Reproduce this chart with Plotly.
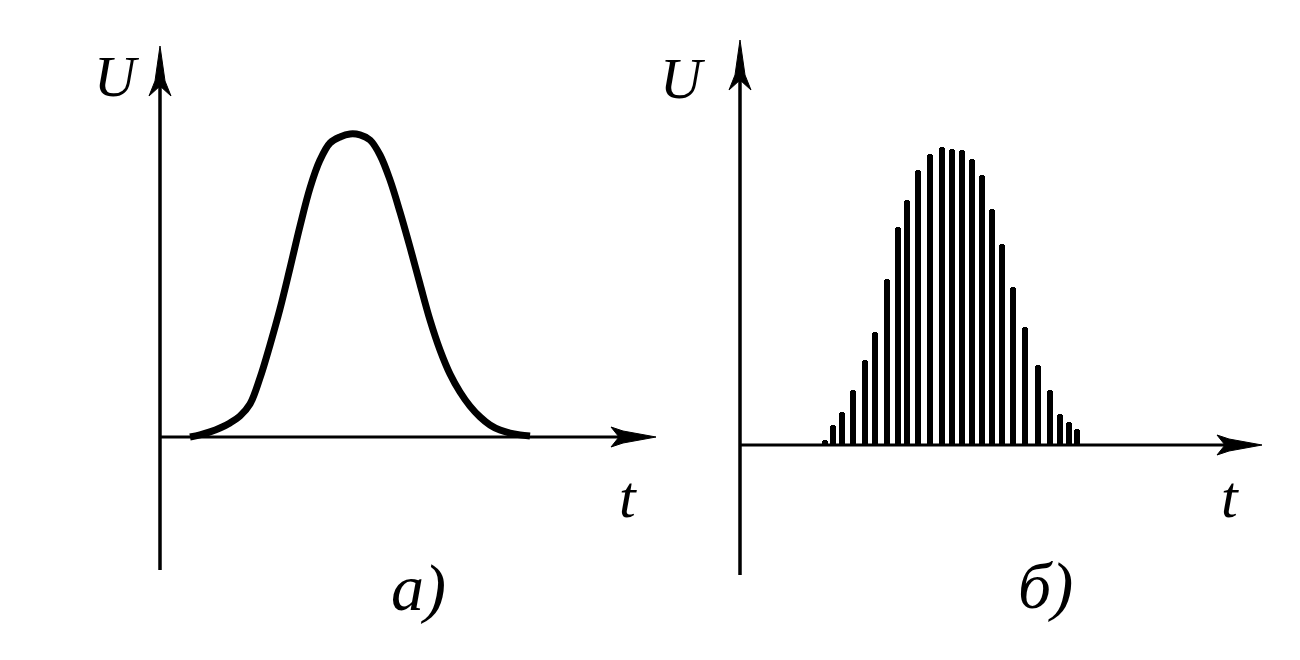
import plotly.graph_objects as go

# ---- Panel a): smooth pulse U(t) ----
t_a = [0.6, 0.8, 1.0, 1.2, 1.4, 1.6, 1.8, 2.0, 2.2, 2.4, 2.6, 2.8, 3.0, 3.2, 3.4, 3.6, 3.8, 4.0,
       4.2, 4.4, 4.6, 4.8, 5.0, 5.2, 5.4, 5.6, 5.8, 6.0, 6.2, 6.4, 6.6, 6.8, 7.0, 7.2, 7.4]
u_a = [0.0, 0.007, 0.017, 0.03, 0.047, 0.07, 0.11, 0.197, 0.307, 0.427, 0.563, 0.703, 0.83, 0.923,
       0.98, 1.0, 1.01, 1.007, 0.99, 0.94, 0.857, 0.75, 0.633, 0.51, 0.39, 0.29, 0.21, 0.15, 0.103,
       0.067, 0.04, 0.023, 0.013, 0.007, 0.003]

# ---- Panel б): rectified RF pulse, lobe positions and heights ----
t_b = [1.7, 1.86, 2.04, 2.26, 2.5, 2.7, 2.94, 3.16, 3.34, 3.56, 3.8, 4.04, 4.24,
       4.44, 4.64, 4.84, 5.04, 5.24, 5.46, 5.7, 5.96, 6.2, 6.4, 6.58, 6.74]
u_b = [0.017, 0.067, 0.11, 0.183, 0.283, 0.377, 0.553, 0.727, 0.817, 0.917, 0.97, 0.993, 0.987,
       0.983, 0.953, 0.9, 0.787, 0.67, 0.527, 0.393, 0.267, 0.183, 0.103, 0.077, 0.053]

axis_label_y = "U"
axis_label_x = "t"
panel_labels = ["а)", "б)"]

W, H = 1300, 660
OFF = 8          # page body margin in the browser
ink = "#000000"
PXT = 50.0       # px per t unit
PXU = 300.0      # px per U unit

fig = go.Figure()
fig.add_trace(go.Scatter(x=t_a, y=u_a, mode="lines", line=dict(color=ink, width=7, shape="spline", smoothing=1.0),
                         xaxis="x", yaxis="y", hoverinfo="skip", showlegend=False))
fig.add_trace(go.Bar(x=t_b, y=u_b, width=0.13, marker=dict(color=ink, line=dict(width=0), cornerradius=3),
                     xaxis="x2", yaxis="y2", hoverinfo="skip", showlegend=False))

def pxp(v):
    return (v - OFF) / W

def pyp(v):
    return 1 - (v - OFF) / H

shapes = []

def axes_shapes(xr, yr, x_end, y_bot, y_top, ytip, xtip):
    sx = 1 / PXT
    sy = 1 / PXU
    shapes.append(dict(type="line", xref=xr, yref=yr, x0=0, x1=0, y0=y_bot, y1=y_top,
                       line=dict(color=ink, width=3.5)))
    shapes.append(dict(type="line", xref=xr, yref=yr, x0=0, x1=x_end, y0=0, y1=0,
                       line=dict(color=ink, width=3)))
    p = [(0, 0), (-5, 35), (-11, 50), (0, 40), (11, 50), (5, 35)]
    path = "M " + " L ".join(f"{dx * sx} {ytip - dy * sy}" for dx, dy in p) + " Z"
    shapes.append(dict(type="path", xref=xr, yref=yr, path=path, fillcolor=ink, line=dict(color=ink, width=1)))
    q = [(0, 0), (33, -6), (45, -10), (37, 0), (45, 10), (33, 6)]
    path = "M " + " L ".join(f"{xtip - dx * sx} {dy * sy}" for dx, dy in q) + " Z"
    shapes.append(dict(type="path", xref=xr, yref=yr, path=path, fillcolor=ink, line=dict(color=ink, width=1)))

axes_shapes("x", "y", 9.4, -(570 - 437) / PXU, 1.2, (437 - 46) / PXU, (656 - 160) / PXT)
axes_shapes("x2", "y2", 10.0, -(575 - 445) / PXU, 1.25, (445 - 40) / PXU, (1262 - 740) / PXT)

annotations = []
for (x, y, txt, sz) in [(117, 76, axis_label_y, 58), (683, 78, axis_label_y, 58),
                        (628, 497, axis_label_x, 60), (1230, 497, axis_label_x, 60),
                        (418, 588, panel_labels[0], 66), (1045, 586, panel_labels[1], 66)]:
    annotations.append(dict(x=pxp(x), y=pyp(y), xref="paper", yref="paper", text=f"<i>{txt}</i>",
                            showarrow=False, font=dict(family="Liberation Serif", size=sz, color=ink),
                            xanchor="center", yanchor="middle"))

fig.update_layout(
    width=W, height=H, margin=dict(l=0, r=0, t=0, b=0),
    paper_bgcolor="white", plot_bgcolor="white",
    xaxis=dict(domain=[pxp(100), pxp(670)], range=[(100 - 160) / PXT, (670 - 160) / PXT],
               visible=False, fixedrange=True),
    yaxis=dict(domain=[pyp(600), pyp(30)], range=[(437 - 600) / PXU, (437 - 30) / PXU],
               visible=False, fixedrange=True),
    xaxis2=dict(domain=[pxp(700), pxp(1290)], range=[(700 - 740) / PXT, (1290 - 740) / PXT],
                visible=False, fixedrange=True),
    yaxis2=dict(domain=[pyp(600), pyp(30)], range=[(445 - 600) / PXU, (445 - 30) / PXU],
                visible=False, fixedrange=True, anchor="x2"),
    shapes=shapes, annotations=annotations, bargap=0, showlegend=False,
)
fig.write_html("out.html")
